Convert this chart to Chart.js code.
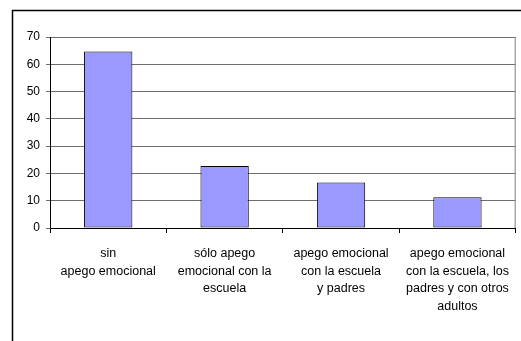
<!DOCTYPE html>
<html>
<head>
<meta charset="utf-8">
<script src="https://cdn.jsdelivr.net/npm/chart.js@4"></script>
<style>
  html, body { margin: 0; padding: 0; background: #fff; }
  #wrap { width: 521px; height: 341px; position: relative; }
</style>
</head>
<body>
<div id="wrap"><canvas id="c" width="521" height="341"></canvas></div>
<script>
// Categories (multi-line labels) and percentages per category
const categories = [
  ["sin", "apego emocional"],
  ["sólo apego", "emocional con la", "escuela"],
  ["apego emocional", "con la escuela", "y padres"],
  ["apego emocional", "con la escuela, los", "padres y con otros", "adultos"]
];
const values = [64.7, 22.7, 16.7, 11.3];
const yTicks = [0, 10, 20, 30, 40, 50, 60, 70];

// Outer frame (top and left rules) plus the grey plot-area border
const framePlugin = {
  id: 'frame',
  beforeDraw(chart) {
    const ctx = chart.ctx;
    ctx.save();
    ctx.fillStyle = '#fff';
    ctx.fillRect(0, 0, chart.width, chart.height);
    ctx.strokeStyle = '#000';
    ctx.lineWidth = 1.5;
    ctx.beginPath();
    ctx.moveTo(12, 10.5);
    ctx.lineTo(chart.width, 10.5);
    ctx.moveTo(12.5, 10);
    ctx.lineTo(12.5, chart.height);
    ctx.stroke();
    ctx.restore();
  },
  afterDatasetsDraw(chart) {
    const a = chart.chartArea;
    const ctx = chart.ctx;
    ctx.save();
    ctx.strokeStyle = '#808080';
    ctx.lineWidth = 1;
    ctx.beginPath();
    ctx.moveTo(a.right - 0.5, a.top);
    ctx.lineTo(a.right - 0.5, a.bottom);
    ctx.stroke();
    ctx.restore();
  }
};

new Chart(document.getElementById('c'), {
  type: 'bar',
  data: {
    labels: categories,
    datasets: [{
      data: values,
      backgroundColor: '#9999FF',
      borderColor: '#000',
      borderWidth: 1,
      borderSkipped: false,
      categoryPercentage: 1,
      barPercentage: 0.415
    }]
  },
  options: {
    responsive: false,
    animation: false,
    events: [],
    layout: { padding: { left: 0, top: 37, right: 1, bottom: 0 } },
    plugins: { legend: { display: false }, tooltip: { enabled: false }, title: { display: false } },
    scales: {
      x: {
        grid: { display: true, drawOnChartArea: false, drawTicks: true, tickLength: 5, color: '#000', offset: true },
        border: { display: true, color: '#000', width: 1 },
        ticks: {
          color: '#000',
          font: { family: 'Liberation Sans, Arial, sans-serif', size: 12.5, lineHeight: 1.4 },
          padding: 12,
          maxRotation: 0,
          autoSkip: false
        },
        afterFit(scale) { scale.height = 341 - 37 - 191; }
      },
      y: {
        min: 0,
        max: 70,
        afterBuildTicks(scale) { scale.ticks = yTicks.map(v => ({ value: v })); },
        grid: { color: '#6e6e6e', lineWidth: 1, drawTicks: true, tickLength: 4 },
        border: { display: true, color: '#000', width: 1 },
        ticks: {
          color: '#000',
          font: { family: 'Liberation Sans, Arial, sans-serif', size: 12 },
          padding: 6
        },
        afterFit(scale) { scale.width = 50; }
      }
    }
  },
  plugins: [framePlugin]
});
</script>
</body>
</html>
